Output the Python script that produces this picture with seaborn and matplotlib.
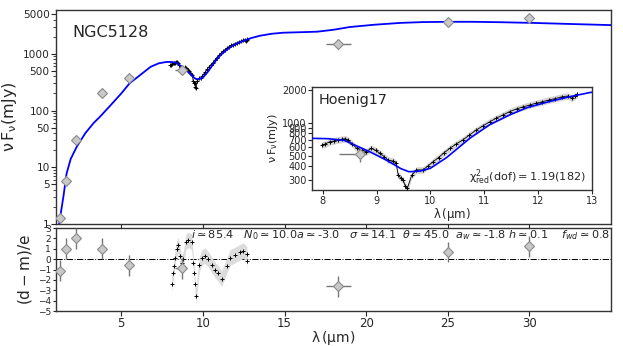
import numpy as np
import matplotlib
matplotlib.use("Agg")
import matplotlib.pyplot as plt
import matplotlib.ticker as mticker
import seaborn as sns

# photometry (wavelength um, flux mJy, errors)
phot_wave = [1.25, 1.6, 2.2, 3.8, 5.5, 8.7, 18.3, 25.0, 30.0]
phot_flux = [1.28, 5.7, 30, 200, 375, 515, 1480, 3650, 4200]
phot_xerr_lo = [0, 0, 0, 0.2, 0, 0.4, 0.75, 0, 0]
phot_xerr_hi = [0, 0, 0, 0.2, 0, 0.1, 0.75, 0, 0]
phot_yerr = [0.15, 0.6, 3, 30, 60, 70, 120, 600, 700]
phot_resid = [-1.1, 1.0, 2.0, 1.0, -0.6, -0.9, -2.6, 0.7, 1.25]

# spectrum
spec_wave = [7.98, 8.05, 8.13, 8.2, 8.28, 8.35, 8.42, 8.47, 8.55, 8.63, 8.72, 8.81, 8.9,
             8.98, 9.06, 9.14, 9.21, 9.3, 9.36, 9.4, 9.45, 9.49, 9.53, 9.57, 9.65, 9.74,
             9.86, 9.95, 10.05, 10.15, 10.25, 10.36, 10.48, 10.6, 10.72, 10.85, 10.98,
             11.1, 11.22, 11.35, 11.47, 11.6, 11.72, 11.84, 11.96, 12.08, 12.2, 12.32,
             12.45, 12.55, 12.62, 12.68, 12.73]
spec_flux = [625, 640, 671, 680, 700, 706, 715, 695, 640, 583, 560, 543, 583,
             560, 525, 490, 456, 446, 430, 333, 310, 300, 265, 250, 330, 370,
             370, 400, 440, 480, 530, 583, 640, 695, 770, 858, 940,
             1020, 1100, 1180, 1265, 1340, 1400, 1455, 1510, 1560, 1620, 1670,
             1735, 1760, 1680, 1750, 1830]

resid_wave = [8.08, 8.18, 8.23, 8.29, 8.39, 8.49, 8.59, 8.7, 8.8, 8.96, 9.1, 9.31, 9.41,
              9.47, 9.51, 9.57, 9.78, 9.92, 10.12, 10.33, 10.53, 10.74, 10.94, 11.14,
              11.45, 11.66, 11.96, 12.27, 12.47, 12.68, 12.72]
resid_val = [-2.39, -1.37, -0.7, 0.15, 1.0, 1.34, 0.33, -0.36, 0.0, 1.68, 1.85, 1.68, -0.36,
             -1.37, -2.39, -3.58, -0.53, 0.15, 0.33, 0.0, -0.53, -1.04, -1.37, -1.88,
             -0.7, 0.15, 0.39, 0.66, 0.83, 0.49, -0.18]

# model
model_wave = [1.18, 1.24, 1.3, 1.45, 1.65, 1.9, 2.27, 2.8, 3.3, 3.7, 4.3, 5.0, 5.5, 6.1,
              6.8, 7.3, 7.8, 8.1, 8.4, 8.87, 9.2, 9.45, 9.6, 9.8, 10.0, 10.3, 10.73, 11.1,
              11.47, 11.8, 12.2, 12.6, 12.95, 13.5, 14.2, 14.9, 16.0, 17.0, 18.0, 19.0,
              20.5, 22.1, 23.5, 25.1, 26.5, 28.2, 30.2, 32.5, 35.0]
model_flux = [0.95, 1.18, 1.6, 3.0, 7.8, 14, 23, 40, 60, 78, 120, 200, 300, 410,
              590, 680, 720, 715, 690, 543, 450, 380, 356, 360, 383, 480, 720, 960,
              1180, 1380, 1563, 1740, 1890, 2080, 2250, 2350, 2400, 2450, 2650, 2960,
              3250, 3500, 3620, 3660, 3660, 3600, 3500, 3350, 3200]

sns.set_style("ticks")
plt.rcParams['font.family'] = ['DejaVu Sans']
plt.rcParams['mathtext.fontset'] = 'dejavusans'

fig = plt.figure(figsize=(6.23, 3.46), dpi=100)
ax = fig.add_axes([0.0899, 0.3526, 0.8908, 0.6184])
axr = fig.add_axes([0.0899, 0.101, 0.8908, 0.240], sharex=ax)
axi = fig.add_axes([0.5008, 0.4509, 0.4494, 0.2977])

diam = dict(fmt='D', ms=5, mfc='#c8c8c8', mec='#8a8a8a', mew=0.8,
            ecolor='#777777', elinewidth=1.0, capsize=0, zorder=5)
sf = np.array(spec_flux)
sw = np.array(spec_wave)


def draw_sed(a, lw, ms):
    a.fill_between(sw, sf * 0.93, sf * 1.07, color='#d4d4d4', lw=0, zorder=2)
    a.plot(sw, sf, color='black', lw=0.6, zorder=3)
    sns.scatterplot(x=spec_wave, y=spec_flux, ax=a, marker='+', color='black',
                    s=ms, linewidth=0.7, zorder=3)
    sns.lineplot(x=model_wave, y=model_flux, ax=a, color='#0000ff', lw=lw,
                 sort=False, estimator=None, zorder=4)


draw_sed(ax, 1.3, 10)
ax.errorbar(phot_wave, phot_flux, xerr=[phot_xerr_lo, phot_xerr_hi], yerr=phot_yerr, **diam)
ax.set_yscale('log')
ax.set_ylim(1, 5900)
ax.set_xlim(1.0, 35.0)
ax.yaxis.set_major_locator(mticker.FixedLocator([1, 5, 10, 50, 100, 500, 1000, 5000]))
ax.yaxis.set_major_formatter(mticker.FixedFormatter(['1', '5', '10', '50', '100', '500', '1000', '5000']))
ax.yaxis.set_minor_locator(mticker.LogLocator(subs=np.arange(2, 10), numticks=20))
ax.yaxis.set_minor_formatter(mticker.NullFormatter())
ax.tick_params(axis='x', labelbottom=False)
ax.set_ylabel(r'$\mathregular{\nu\, F_\nu(mJy)}$', fontsize=11.5, labelpad=3)
ax.text(0.03, 0.895, 'NGC5128', transform=ax.transAxes, fontsize=11.5, va='center')

# inset
draw_sed(axi, 1.2, 7)
axi.errorbar([phot_wave[5]], [phot_flux[5]], xerr=[[phot_xerr_lo[5]], [phot_xerr_hi[5]]],
             yerr=[[75], [0]], **diam)
axi.set_yscale('log')
axi.set_xlim(7.8, 13)
axi.set_ylim(242, 2130)
yt = [300, 400, 500, 600, 700, 800, 900, 1000, 2000]
axi.yaxis.set_major_locator(mticker.FixedLocator(yt))
axi.yaxis.set_major_formatter(mticker.FixedFormatter([str(v) for v in yt]))
axi.yaxis.set_minor_locator(mticker.NullLocator())
axi.tick_params(labelsize=7, length=3, pad=1)
axi.set_xlabel(r'$\mathregular{\lambda\,(\mu m)}$', fontsize=8.5, labelpad=0)
axi.set_ylabel(r'$\mathregular{\nu\, F_\nu(mJy)}$', fontsize=8, labelpad=1)
axi.text(0.025, 0.87, 'Hoenig17', transform=axi.transAxes, fontsize=10.4, va='center')
axi.text(0.98, 0.12, r'$\mathregular{\chi^2_{red}(dof) = 1.19(182)}$', transform=axi.transAxes,
         fontsize=8.1, ha='right', va='center')

# residuals
rv = np.array(resid_val)
axr.fill_between(resid_wave, rv - 0.75, rv + 0.75, color='#dcdcdc', lw=0, zorder=2)
sns.scatterplot(x=resid_wave, y=resid_val, ax=axr, marker='+', color='black',
                s=10, linewidth=0.7, zorder=3)
axr.errorbar(phot_wave, phot_resid, xerr=[phot_xerr_lo, phot_xerr_hi],
             yerr=[1.0] * len(phot_wave), **diam)
axr.axhline(0, color='black', ls='-.', lw=0.7, zorder=1)
axr.set_ylim(-5, 3)
axr.set_yticks(range(-5, 4))
axr.tick_params(axis='y', labelsize=6.5, pad=1, length=2.5)
axr.tick_params(axis='x', labelsize=8.5, pad=1)
axr.set_xticks([5, 10, 15, 20, 25, 30])
axr.set_xlabel(r'$\mathregular{\lambda\,(\mu m)}$', fontsize=10, labelpad=-1)
axr.set_ylabel(r'$\mathregular{(d-m)/e}$', fontsize=11, labelpad=3)
axr.text(0.998, 0.92,
         r'$i \simeq 85.4$   $N_0 \simeq 10.0 a \simeq$-3.0   $\sigma \simeq 14.1$  '
         r'$\theta \simeq 45.0$  $a_w \simeq$-1.8 $h \simeq 0.1$    $f_{wd} \simeq 0.8$',
         transform=axr.transAxes, fontsize=8.1, ha='right', va='center')

for a in (ax, axr, axi):
    for s in a.spines.values():
        s.set_color('#333333')
        s.set_linewidth(1.0)
ax.tick_params(axis='y', labelsize=7.6, pad=1)
ax.tick_params(which='minor', length=2.5)

fig.savefig('out.png', dpi=100)
